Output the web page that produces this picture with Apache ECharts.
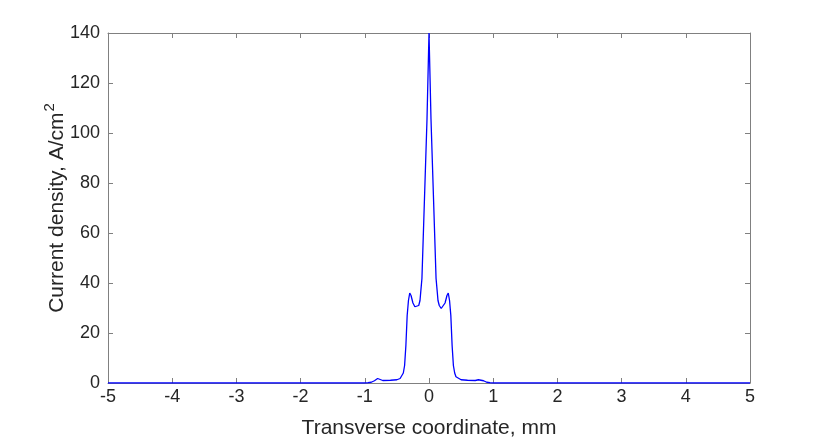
<!DOCTYPE html>
<html><head><meta charset="utf-8">
<script src="https://cdn.jsdelivr.net/npm/echarts@6/dist/echarts.min.js"></script>
<style>html,body{margin:0;padding:0;background:#fff}#c{width:830px;height:440px}</style>
</head><body><div id="c"></div>
<script>
const xTicks = [-5,-4,-3,-2,-1,0,1,2,3,4,5];
const yTicks = [0,20,40,60,80,100,120,140];
const xCoord = [-5,-1.0,-0.95,-0.9,-0.85,-0.8,-0.77,-0.72,-0.6,-0.5,-0.45,-0.42,-0.4,-0.38,-0.36,-0.34,-0.32,-0.3,-0.28,-0.25,-0.22,-0.19,-0.16,-0.14,-0.13,-0.11,-0.031,0,
  0.031,0.11,0.13,0.14,0.16,0.19,0.22,0.25,0.28,0.3,0.32,0.34,0.36,0.38,0.4,0.42,0.45,0.5,0.6,0.72,0.77,0.8,0.85,0.9,0.95,1.0,5];
const density = [0,0,0.1,0.3,0.9,1.8,1.3,1.0,1.1,1.3,1.8,2.5,4,7,15,27,33,36,35,32,30.5,29.8,31,33,36,41.8,105.6,140,
  105.6,41.8,36,33,31,29.8,30.5,32,35,36,33,27,15,7,4,2.5,1.8,1.3,1.1,1.0,1.3,1.8,0.9,0.3,0.1,0,0];

const chart = echarts.init(document.getElementById('c'));
const txt = '#262626', axc = '#808080';
const font = 'Liberation Sans, Arial, sans-serif';
chart.setOption({
  animation:false,
  grid: {left:108, right:80, top:33, bottom:57, containLabel:false, outerBoundsMode:'none'},
  xAxis: [{
    type:'value', min:-5, max:5, interval:1, position:'bottom',
    axisLine:{onZero:false, lineStyle:{color:axc, width:1}},
    axisTick:{inside:true, length:5, lineStyle:{color:axc}},
    splitLine:{show:false},
    axisLabel:{color:txt, fontSize:18, fontFamily:font, margin:5, formatter:v=>xTicks.includes(v)?String(v):''},
    name:'Transverse coordinate, mm', nameLocation:'middle', nameGap:35, nameMoveOverlap:false,
    nameTextStyle:{color:txt, fontSize:21, fontFamily:font}
  },{
    type:'value', min:-5, max:5, interval:1, position:'top',
    axisLine:{onZero:false, lineStyle:{color:axc}},
    axisTick:{inside:true, length:5, lineStyle:{color:axc}},
    axisLabel:{show:false}, splitLine:{show:false}
  }],
  yAxis: [{
    type:'value', min:0, max:140, interval:20, position:'left',
    axisLine:{show:true, onZero:false, lineStyle:{color:axc}},
    axisTick:{show:true, inside:true, length:5, lineStyle:{color:axc}},
    splitLine:{show:false},
    axisLabel:{color:txt, fontSize:18, fontFamily:font, margin:8, formatter:v=>yTicks.includes(v)?String(v):''},
    name:'{a|Current density, A/cm}{s|2}', nameLocation:'middle', nameGap:40, nameRotate:90, nameMoveOverlap:false,
    nameTextStyle:{color:txt, fontSize:21, fontFamily:font,
      rich:{a:{fontSize:21, fontFamily:font, color:txt, verticalAlign:'bottom', lineHeight:26},
            s:{fontSize:15, fontFamily:font, color:txt, verticalAlign:'top', lineHeight:26, padding:[0,0,12,1]}}}
  },{
    type:'value', min:0, max:140, interval:20, position:'right',
    axisLine:{show:true, onZero:false, lineStyle:{color:axc}},
    axisTick:{show:true, inside:true, length:5, lineStyle:{color:axc}},
    axisLabel:{show:false}, splitLine:{show:false}
  }],
  series: [{
    type:'line', xAxisIndex:0, yAxisIndex:0, showSymbol:false, symbol:'none',
    lineStyle:{color:'#0000ff', width:1.3},
    data: xCoord.map((x,i)=>[x, density[i]])
  }]
});
</script></body></html>
